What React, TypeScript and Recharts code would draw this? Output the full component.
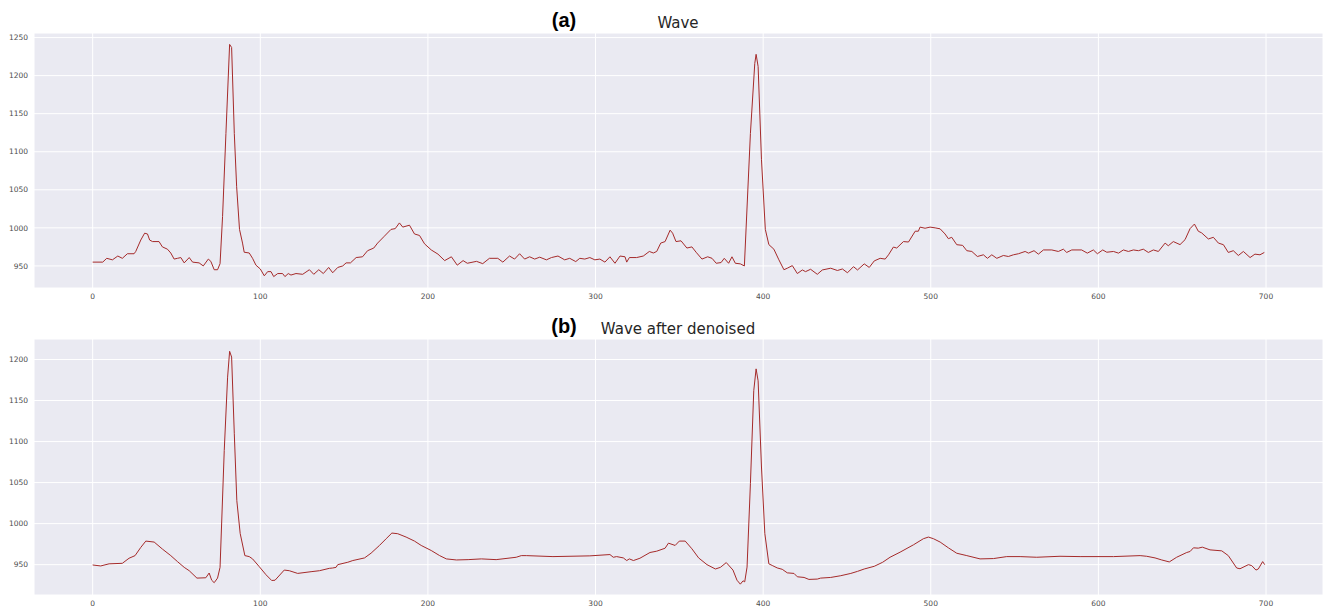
import React from "react";
import { LineChart, Line, CartesianGrid, XAxis, YAxis } from "recharts";

// raw signal, sampled off the top panel (sample index -> amplitude)
const rawX = [
  0, 6, 8.4, 11.8, 15, 17.7, 20.7, 24.7, 25.7, 28.7, 31, 32.7, 34, 35.7, 39.6, 41.6, 44.6, 46.6, 48.6, 50.6,
  52.6, 54.6, 57.6, 59.6, 63.5, 66, 69, 70.5, 72.5, 74.5, 76, 77.5, 79.5, 81.7, 82.9, 84.5, 85.9, 87.6, 89.4, 90.4,
  93.4, 95.4, 97.4, 100, 102.4, 104.4, 106.4, 108, 110.4, 113.3, 114.7, 116.7, 118.3, 121.3, 125.3, 129.3, 131.9, 134.9, 137.6, 140.8,
  143.2, 146.2, 149.2, 151.2, 153.8, 157.2, 161, 164, 167.7, 170, 174, 178, 180.5, 183, 185, 189, 192, 195, 198, 202,
  206, 210, 214, 217.5, 221, 223.5, 229, 232.7, 236.7, 241.7, 244.7, 248.7, 251.7, 254.7, 257.7, 260.7, 263.7, 266.7, 270.7, 273.7,
  277.6, 281.6, 284.6, 288.2, 290.6, 293.6, 296.6, 299.6, 302.6, 305.6, 308.6, 311.6, 314.6, 317.6, 318.6, 320.2, 324.5, 328.5, 332.1, 334.5,
  336.5, 338.9, 341.5, 344.5, 346, 348, 351, 354.5, 357.5, 360, 363.5, 366.9, 369.5, 372, 374.9, 376.8, 379.4, 381.4, 383.4, 386.4,
  388.8, 392.4, 395, 395.8, 397, 399, 401.3, 403.4, 406.4, 409.4, 412.4, 414.4, 417.4, 420.4, 423.4, 425.3, 428.3, 432.3, 435.3, 440.3,
  444.3, 447.3, 450.3, 453.9, 456.3, 460.3, 463.3, 466.3, 469.8, 472.8, 474.8, 477.7, 479.7, 483.7, 486.7, 490.7, 492.6, 493.6, 496.6, 499.6,
  502.6, 505.6, 508.5, 510.5, 512.5, 515.5, 519, 521.5, 524.5, 527.8, 531.4, 533.8, 536.4, 539.4, 543.3, 546.3, 549.3, 552.3, 556.3, 558.3,
  561.6, 564.2, 567.2, 572.2, 576.1, 579.1, 581.1, 584.1, 590, 593.4, 597, 599.4, 602.6, 605, 609, 612, 614.9, 617.9, 620.9, 623.9,
  626.8, 629.8, 632.8, 635.8, 639.8, 641.7, 644.7, 648.7, 651.7, 654.7, 657.3, 659.6, 661.6, 665.6, 668.6, 671.6, 674.6, 677.5, 680.5, 683.5,
  686.5, 690.5, 693.4, 696.4, 699,
];
const rawY = [
  955, 955, 960, 958, 963, 960, 966, 966, 969, 984, 993, 992, 984, 982, 982, 975, 972, 967, 959, 960,
  961, 954, 961, 955, 954, 950, 959, 956, 945, 945, 953, 1015, 1124, 1241, 1237, 1124, 1054, 998, 980, 968,
  967, 960, 951, 946, 937, 942.5, 942.5, 936, 940, 940, 936, 940, 938, 940, 939, 945, 939, 945, 940, 948,
  941, 948, 950, 954, 954, 961, 962, 970, 973.5, 980, 989, 998, 999, 1006.5, 1001, 1003.5, 992, 990, 979, 971,
  965.5, 957, 962, 951, 957, 953.5, 956, 953, 960, 960, 955, 963, 959, 966, 959, 962, 959, 961.5, 958, 961,
  963, 958, 960, 955.7, 960, 959, 961, 958, 959, 955, 962, 953.5, 963, 962, 955, 961, 961, 963, 969, 967,
  969, 980, 982, 997, 993, 982, 983, 973.5, 975, 968, 959, 962, 960, 953.5, 954.4, 960, 953.5, 962, 953.5, 952.7,
  950, 1124, 1216, 1228, 1212, 1089.5, 998, 978, 972, 958, 945, 947, 950.4, 940, 944.7, 942.5, 945.6, 939, 944.7, 947,
  944, 946, 941, 949, 944.7, 952.7, 948, 956.6, 960, 959, 964.6, 974.8, 973.5, 982, 981.4, 995.6, 995.6, 1001, 999.5, 1001,
  1000, 998.7, 992, 985.8, 987.6, 977.9, 977, 970, 969, 962.4, 964.6, 960, 964.6, 960, 963.7, 962.4, 964.6, 966, 969, 966.8,
  970, 965.5, 971, 971, 969, 972, 967.7, 971, 971, 966.8, 971, 966, 971, 968, 969, 966.8, 971, 969, 971, 970,
  972, 967.7, 971, 969, 980, 976.5, 982, 978, 984.5, 999, 1005, 995.6, 993.4, 985.4, 987.6, 980, 977.9, 967.7, 970, 963.7,
  969, 961, 965.5, 964.6, 967.7,
];

// denoised signal, sampled off the bottom panel
const cleanX = [
  0, 4.8, 9.8, 17.7, 21.7, 25.3, 28.7, 31.7, 36.7, 41.6, 46.6, 50.6, 54.6, 57.6, 62.2, 67.5, 69.5, 71, 72.5, 74.5,
  76, 78.5, 80.5, 81.7, 82.9, 84.5, 86, 88, 90.8, 93.4, 95.4, 99.4, 103.4, 106.8, 108.8, 114.3, 117.3, 122.3, 130.3, 135.3,
  141.2, 143.2, 145.2, 146.2, 152.2, 155.2, 162.2, 166.1, 171.1, 175.1, 178.5, 182, 187, 192, 196, 202, 207, 211, 217, 224,
  231.9, 240.7, 252.7, 255.7, 258.7, 274.6, 296.6, 308.6, 310.6, 312.6, 316.6, 318.6, 320.2, 322.6, 326.5, 332.5, 336.5, 341.5, 343.5, 347.5,
  350, 353.5, 357.5, 361.5, 366.5, 371.5, 374.5, 378, 382, 384.4, 386.4, 388, 389, 390.4, 392.4, 394.4, 395.8, 397, 399, 401,
  403.4, 405.4, 408.4, 411.4, 414.4, 418.4, 420.4, 424.4, 427.3, 432.3, 434.3, 440.3, 446.3, 452.3, 456.3, 460.3, 466.3, 471.3, 475.7, 481.7,
  489.7, 495.6, 498.6, 501.6, 505.6, 510.5, 515.5, 521.5, 529.4, 537.4, 545.3, 553.3, 563.2, 577.1, 589.1, 609, 624.9, 628.8, 633.8, 637.8,
  642.3, 646.7, 652.7, 654.7, 656.7, 659.6, 662, 666.6, 673.6, 677.5, 682.5, 684.5, 689.5, 691.5, 694, 695.4, 698, 699.2,
];
const cleanY = [
  949.6, 948.4, 951, 951.6, 957.8, 961, 971, 978.7, 977.5, 969, 961, 953.7, 946.7, 942.6, 933.6, 934, 939.8, 931, 928, 933.6,
  946.7, 1089, 1178.5, 1210, 1203, 1109.5, 1028, 988, 961, 959.8, 957, 947.5, 937.7, 930.7, 931, 943.4, 942.6, 939.3, 941.4, 942.6,
  945.5, 945.9, 946.7, 950, 952.9, 955, 958.2, 964, 973.4, 981.6, 988.5, 987.7, 983.6, 978.7, 973.4, 967.2, 961, 957, 955.7, 956.1,
  957, 956.1, 959, 961, 961, 959.8, 960.7, 962.3, 959, 959.8, 958.2, 955, 957, 955, 957.8, 964.8, 966.4, 970, 976.2, 973.4,
  978.7, 978.7, 969.3, 958.2, 950, 944.7, 946.7, 952.5, 943.4, 931, 926.2, 930.3, 929, 947, 1048.6, 1162, 1188.6, 1174, 1069, 988,
  951, 949, 946, 944.3, 940, 939.3, 935.2, 934.4, 932, 932.4, 933.6, 934.4, 936.5, 939.3, 941.8, 944.7, 948, 952.9, 959, 965.2,
  974.2, 981.6, 983.6, 981.6, 977.5, 970.5, 963.9, 961, 957, 957.4, 959.8, 959.8, 959, 960.2, 959.8, 959.8, 961, 960.2, 958.2, 955.7,
  953.3, 959, 964.8, 966, 970.5, 970.1, 971.3, 968, 966.8, 961, 945.9, 945, 950, 948.8, 943.4, 944.7, 953.7, 950,
];

const xTicks = [0, 100, 200, 300, 400, 500, 600, 700];
const rawTicks = [950, 1000, 1050, 1100, 1150, 1200, 1250];
const cleanTicks = [950, 1000, 1050, 1100, 1150, 1200];

const rawData = rawX.map((x, i) => ({ x, y: rawY[i] }));
const cleanData = cleanX.map((x, i) => ({ x, y: cleanY[i] }));

const tickStyle = { fontSize: 7.5, fill: "#4d4d4d", fontFamily: "DejaVu Sans" };

function Panel({ data, height, top, xh, yDomain, yTicks }: any) {
  return (
    <LineChart
      width={1323}
      height={height}
      data={data}
      margin={{ top, right: 0, bottom: 0, left: 0 }}
    >
      <CartesianGrid fill="#eaeaf2" stroke="#ffffff" strokeWidth={1} />
      <XAxis
        type="number"
        dataKey="x"
        domain={[-35, 734]}
        ticks={xTicks}
        allowDataOverflow
        axisLine={false}
        tickLine={false}
        tickSize={4}
        tickMargin={2}
        height={xh}
        tick={tickStyle}
      />
      <YAxis
        type="number"
        domain={yDomain}
        ticks={yTicks}
        allowDataOverflow
        axisLine={false}
        tickLine={false}
        tickSize={4}
        tickMargin={2}
        width={34}
        tick={tickStyle}
      />
      <Line
        type="linear"
        dataKey="y"
        stroke="#a52a2a"
        strokeWidth={1}
        dot={false}
        isAnimationActive={false}
      />
    </LineChart>
  );
}

export default function App() {
  return (
    <div style={{ position: "absolute", left: 0, top: 0, width: 1323, height: 610, background: "#fff" }}>
      <div style={{ position: "absolute", left: 0, top: 0 }}>
        <Panel data={rawData} height={310} top={33} xh={22} yDomain={[921, 1256]} yTicks={rawTicks} />
      </div>
      <div style={{ position: "absolute", left: 0, top: 310 }}>
        <Panel data={cleanData} height={300} top={29} xh={15} yDomain={[913, 1225]} yTicks={cleanTicks} />
      </div>
      <svg width={1323} height={610} style={{ position: "absolute", left: 0, top: 0, pointerEvents: "none" }}>
        <text x={564} y={27} textAnchor="middle" fontFamily="Liberation Sans" fontWeight="bold" fontSize={20} fill="#000">(a)</text>
        <text x={678} y={28} textAnchor="middle" fontFamily="DejaVu Sans" fontSize={15} fill="#262626">Wave</text>
        <text x={564} y={333} textAnchor="middle" fontFamily="Liberation Sans" fontWeight="bold" fontSize={20} fill="#000">(b)</text>
        <text x={678} y={334} textAnchor="middle" fontFamily="DejaVu Sans" fontSize={15} fill="#262626">Wave after denoised</text>
      </svg>
    </div>
  );
}
